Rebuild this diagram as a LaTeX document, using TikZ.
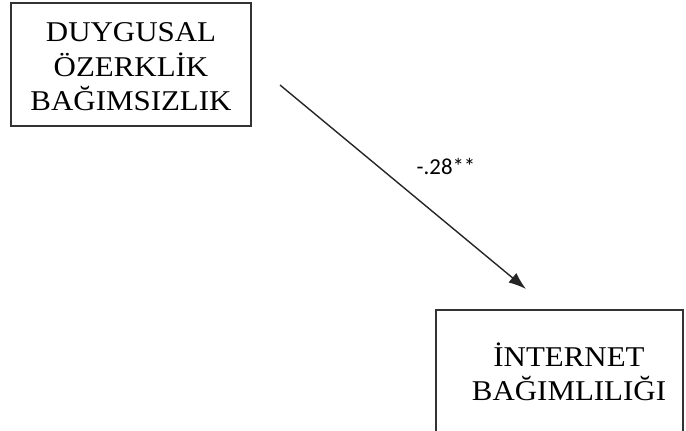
\documentclass[tikz,border=0pt]{standalone}
\usepackage{fontspec}
\setmainfont{Liberation Serif}[FakeStretch=1.08]
\newfontfamily\labelfont{Carlito}
\usetikzlibrary{positioning}
\usetikzlibrary{calc}
\usetikzlibrary{arrows.meta}
\colorlet{frame colour}{black!80}
\colorlet{path colour}{black!85}
\tikzset{
    % Simple filled arrow head, as in the original
    >={Latex[length=10, width=7]},
%
    % Boxes for the two variables
    variable box/.style={draw=frame colour, line width=1pt, rectangle,
        inner sep=0},
    variable text/.style={font=\fontsize{16.3}{19.6}\selectfont,
        align=center, inner sep=0},
    % The single path and its coefficient
    path arrow/.style={color=path colour, line width=0.8pt, ->},
    coefficient/.style={font=\labelfont\fontsize{13}{15}\selectfont},
}

\begin{document}
\begin{tikzpicture}[x=0.02cm, y=-0.02cm]

% Fix the page and cut off the lower box at the bottom edge
\useasboundingbox (0,0) rectangle (686,430);
\clip (0,0) rectangle (686,430);

% Predictor
\node [variable box, minimum width=4.8cm, minimum height=2.46cm] (autonomy)
    at (131,64.5) {};
\node [variable text] (autonomy text) at (131,67)
    {DUYGUSAL\\ÖZERKLİK\\BAĞIMSIZLIK};

% Outcome, the frame runs on below the page
\node [variable box, minimum width=4.94cm, minimum height=4cm] (addiction)
    at (559.5,410) {};
\node [variable text] (addiction text) at (569,372)
    {İNTERNET\\BAĞIMLILIĞI};

% Path with its coefficient
\coordinate (path start) at (280,85);
\coordinate (path end) at (526,289);
\draw [path arrow] (path start) -- (path end);
\node [coefficient] (beta) at (446,166) {-.28**};

\end{tikzpicture}
\end{document}
